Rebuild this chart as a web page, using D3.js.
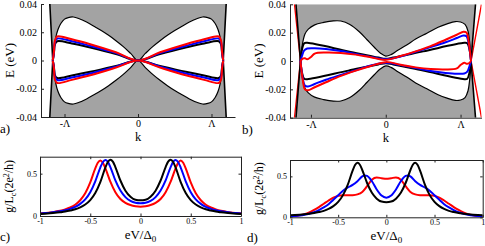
<!DOCTYPE html>
<html>
<head>
<meta charset="utf-8">
<script src="https://cdn.jsdelivr.net/npm/d3@7"></script>
<style>
  body { margin: 0; background: #fff; }
  svg { display: block; font-family: "Liberation Serif", "Times New Roman", serif; }
</style>
</head>
<body>
<svg id="fig" width="485" height="246"></svg>
<script>
// ---------- data: spectra (k in units of Lambda, E in eV) ----------
const eTicks = [-0.04, -0.02, 0, 0.02, 0.04];
const eTickLabels = ["-0.04", "-0.02", "0", "0.02", "0.04"];
const kTicks = [-1, 0, 1];
const kTickLabels = ["-\u039B", "0", "\u039B"];

// panel a: outer continuum edge (right side, mirrored) and gap edge (|k| >= 0)
const edgeA = [[1.2, 0.04], [1.16, 0], [1.2, -0.04]];
const gapA = [[0, 0], [0.1, 0.0050], [0.2, 0.0098], [0.3, 0.0140], [0.4, 0.0178],
  [0.5, 0.0212], [0.6, 0.0243], [0.7, 0.0272], [0.8, 0.0296], [0.88, 0.0308],
  [0.95, 0.0304], [1.0, 0.0293], [1.05, 0.0262], [1.09, 0.0218], [1.12, 0.0160],
  [1.14, 0.0090], [1.16, 0]];
// panel a: sub-gap bands, k >= 0 (mirrored)
const blackUpA = [[0, 0], [0.3, 0.0046], [0.65, 0.0092], [0.9, 0.0121], [1.1, 0.0136], [1.13, 0.0115], [1.145, 0.0045], [1.16, 0]];
const blueUpA = [[0, 0], [0.3, 0.0052], [0.65, 0.0103], [0.9, 0.0137], [1.1, 0.0155], [1.13, 0.0130], [1.145, 0.0050], [1.16, 0]];
const redUpA = [[0, 0], [0.3, 0.0058], [0.65, 0.0115], [0.9, 0.0150], [1.1, 0.0170], [1.13, 0.0140], [1.145, 0.0055], [1.16, 0]];
const blackDnA = [[0, 0], [0.3, -0.0038], [0.65, -0.0080], [0.9, -0.0106], [1.1, -0.0124], [1.13, -0.0105], [1.145, -0.0040], [1.16, 0]];
const blueDnA = [[0, 0], [0.3, -0.0044], [0.65, -0.0092], [0.9, -0.0120], [1.1, -0.0138], [1.13, -0.0117], [1.145, -0.0045], [1.16, 0]];
const redDnA = [[0, 0], [0.3, -0.0050], [0.65, -0.0105], [0.9, -0.0137], [1.1, -0.0159], [1.13, -0.0135], [1.145, -0.0050], [1.16, 0]];

// panel b: edges, gap edge (upper, full k) and upper bands (lower ones are E(k) -> -E(-k))
const edgeB = [[1.2, 0.04], [1.14, 0], [1.2, -0.04]];
const edgeRedBLeft = [[-1.22, 0.04], [-1.14, 0], [-1.22, -0.04]];
const edgeRedBRight = [[1.28, 0.04], [1.14, 0], [1.28, -0.04]];
const gapB = [[-1.14, 0], [-1.12, 0.010], [-1.08, 0.019], [-1.035, 0.0225], [-0.95, 0.0255],
  [-0.83, 0.0272], [-0.7, 0.0283], [-0.6, 0.0282], [-0.48, 0.0258], [-0.35, 0.0205],
  [-0.25, 0.0150], [-0.15, 0.0095], [-0.07, 0.0055], [0, 0.0035], [0.07, 0.0045],
  [0.15, 0.0072], [0.28, 0.0113], [0.4, 0.0155], [0.55, 0.0196], [0.7, 0.0238],
  [0.82, 0.0262], [0.93, 0.0278], [1.0, 0.0275], [1.06, 0.0258], [1.1, 0.0210],
  [1.12, 0.0140], [1.14, 0]];
const blackUpB = [[-1.14, 0], [-1.12, 0.008], [-1.09, 0.0125], [-1.05, 0.0128], [-0.5, 0.0068],
  [-0.1, 0.0024], [0, 0.0015], [0.1, 0.0024], [0.5, 0.0068], [1.05, 0.0128], [1.09, 0.0125],
  [1.12, 0.008], [1.14, 0]];
const blueUpB = [[-1.14, 0], [-1.12, 0.0035], [-1.09, 0.0075], [-1.05, 0.0088], [-0.95, 0.0090],
  [-0.8, 0.0084], [-0.6, 0.0070], [-0.4, 0.0050], [-0.2, 0.0029], [0, 0.0012], [0.2, 0.0032],
  [0.4, 0.0065], [0.6, 0.0098], [0.8, 0.0132], [0.95, 0.0162], [1.04, 0.0180], [1.08, 0.0175],
  [1.11, 0.0120], [1.14, 0]];
const redUpB = [[-1.14, 0], [-1.11, 0.0017], [-1.08, 0.0019], [-1.05, 0.0012], [-1.0, 0.0028],
  [-0.95, 0.0052], [-0.8, 0.0060], [-0.6, 0.0057], [-0.4, 0.0045], [-0.2, 0.0026], [0, 0.0008],
  [0.2, 0.0035], [0.4, 0.0068], [0.6, 0.0105], [0.8, 0.0150], [0.95, 0.0185], [1.04, 0.0207],
  [1.08, 0.0200], [1.11, 0.0130], [1.14, 0]];

// ---------- data: conductance (eV/Delta0 >= 0, symmetric) ----------
const vTicks = [-1, -0.5, 0, 0.5, 1];
const vTickLabels = ["-1", "-0.5", "0", "0.5", "1"];
const gTicks = [0, 0.5];
const gTickLabels = ["0", "0.5"];

const gBlack = [[0, .185], [.05, .192], [.1, .228], [.15, .299], [.2, .419], [.25, .578], [.275, .642],
  [.3, .665], [.325, .638], [.35, .57], [.4, .40], [.45, .271], [.5, .188], [.55, .136], [.6, .102],
  [.65, .079], [.7, .064], [.75, .052], [.8, .044], [.85, .037], [.9, .032], [.95, .028], [1, .0245]];
const gBlueC = [[0, .15], [.05, .156], [.1, .178], [.15, .223], [.2, .30], [.25, .42], [.3, .578],
  [.325, .638], [.35, .66], [.375, .635], [.4, .572], [.45, .41], [.5, .281], [.55, .196], [.6, .143],
  [.65, .107], [.7, .084], [.75, .067], [.8, .055], [.85, .046], [.9, .039], [.95, .034], [1, .029]];
const gRedC = [[0, .11], [.05, .115], [.1, .129], [.15, .155], [.2, .20], [.25, .28], [.3, .405],
  [.35, .566], [.375, .63], [.4, .655], [.425, .628], [.45, .562], [.5, .397], [.55, .268], [.6, .186],
  [.65, .133], [.7, .10], [.75, .078], [.8, .062], [.85, .051], [.9, .042], [.95, .036], [1, .031]];
const gBlueD = [[0, .24], [.05, .265], [.1, .34], [.15, .44], [.2, .505], [.225, .512], [.25, .50],
  [.3, .44], [.35, .395], [.4, .365], [.45, .325], [.5, .27], [.55, .215], [.6, .16], [.65, .12],
  [.7, .088], [.75, .062], [.8, .043], [.85, .03], [.9, .021], [.95, .015], [1, .011]];
const gRedD = [[0, .47], [.05, .478], [.1, .487], [.15, .46], [.2, .38], [.25, .31], [.3, .28],
  [.35, .27], [.4, .268], [.45, .27], [.5, .262], [.55, .24], [.6, .205], [.65, .165], [.7, .125],
  [.75, .09], [.8, .06], [.85, .038], [.9, .024], [.95, .015], [1, .01]];

// ---------- helpers ----------
const svg = d3.select("#fig");
const gray = "#a3a3a3";
const axisColor = "#222";
const colors = { black: "#000", blue: "#0000ff", red: "#ff0000" };

// mirror a k>=0 half onto k<0
const mirrorK = (half) => half.slice(1).reverse().map(([k, e]) => [-k, e]).concat(half);
// E(k) -> -E(-k)
const reflect = (pts) => pts.map(([k, e]) => [-k, -e]);

let clipCount = 0;
function addClip(left, top, w, h) {
  const id = "clip" + (clipCount++);
  svg.append("clipPath").attr("id", id)
    .append("rect").attr("x", left).attr("y", top).attr("width", w).attr("height", h);
  return `url(#${id})`;
}

function styleAxis(sel, size) {
  sel.attr("font-family", null).attr("font-size", size).style("color", axisColor);
  sel.selectAll("text").attr("fill", "#000");
}

// ---------- spectrum panels ----------
function spectrumPanel(p) {
  const x = d3.scaleLinear().domain(p.kDomain).range([p.left, p.right]);
  const y = d3.scaleLinear().domain([-0.04, 0.04]).range([p.bottom, p.top]);
  const g = svg.append("g");
  const plot = g.append("g").attr("clip-path", addClip(p.left, p.top, p.right - p.left, p.bottom - p.top));

  // continuum between the outer edges
  plot.append("path").datum(p.edge)
    .attr("fill", gray)
    .attr("d", d3.area().y((d) => y(d[1])).x0((d) => x(-d[0])).x1((d) => x(d[0])));

  // gap region, symmetric in E
  const gapPoly = p.gapUp.concat(p.gapUp.slice(1, -1).reverse().map(([k, e]) => [k, -e]));
  plot.append("path").datum(gapPoly)
    .attr("fill", "#fff").attr("stroke", "#000").attr("stroke-width", 1.2)
    .attr("d", d3.line().x((d) => x(d[0])).y((d) => y(d[1])).curve(d3.curveCatmullRomClosed.alpha(0.5)));

  const line = d3.line().x((d) => x(d[0])).y((d) => y(d[1])).curve(d3.curveCatmullRom.alpha(0.5));

  // outer edge lines
  (p.extraEdges || []).forEach((e) => {
    plot.append("path").datum(e.pts).attr("fill", "none")
      .attr("stroke", e.color).attr("stroke-width", 1.4).attr("d", d3.line().x((d) => x(d[0])).y((d) => y(d[1])));
  });
  [p.edge, p.edge.map(([k, e]) => [-k, e])].forEach((pts) => {
    plot.append("path").datum(pts).attr("fill", "none")
      .attr("stroke", "#000").attr("stroke-width", 1.6).attr("d", d3.line().x((d) => x(d[0])).y((d) => y(d[1])));
  });

  // bands
  p.bands.forEach((b) => {
    plot.append("path").datum(b.pts).attr("fill", "none")
      .attr("stroke", colors[b.color]).attr("stroke-width", 2).attr("d", line);
  });

  // axes (ticks pointing inward)
  g.append("g").attr("transform", `translate(${p.left},0)`)
    .call(d3.axisLeft(y).tickValues(eTicks).tickFormat((d, i) => eTickLabels[i])
      .tickSize(-3).tickSizeOuter(0).tickPadding(4))
    .call(styleAxis, 10);
  g.append("g").attr("transform", `translate(0,${p.bottom})`)
    .call(d3.axisBottom(x).tickValues(kTicks).tickFormat((d, i) => kTickLabels[i])
      .tickSize(-3).tickSizeOuter(0).tickPadding(3))
    .call(styleAxis, 10);

  g.append("text").attr("x", (p.left + p.right) / 2).attr("y", p.bottom + 24)
    .attr("text-anchor", "middle").attr("font-size", 12.5).text("k");
  g.append("text").attr("transform", `translate(${p.left - 27},${(p.top + p.bottom) / 2}) rotate(-90)`)
    .attr("text-anchor", "middle").attr("font-size", 13).text("E (eV)");
  g.append("text").attr("x", p.tagX).attr("y", p.tagY).attr("font-size", 13).text(p.tag);
}

// ---------- conductance panels ----------
function conductancePanel(p) {
  const x = d3.scaleLinear().domain([-1, 1]).range([p.left, p.right]);
  const y = d3.scaleLinear().domain([0, 0.7]).range([p.bottom, p.top]);
  const g = svg.append("g");
  const plot = g.append("g").attr("clip-path", addClip(p.left, p.top, p.right - p.left, p.bottom - p.top));
  const line = d3.line().x((d) => x(d[0])).y((d) => y(d[1])).curve(d3.curveMonotoneX);

  p.curves.forEach((c) => {
    plot.append("path").datum(mirrorK(c.pts)).attr("fill", "none")
      .attr("stroke", colors[c.color]).attr("stroke-width", 2).attr("d", line);
  });

  const mk = (axis, tx, ty, labels) => {
    const a = g.append("g").attr("transform", `translate(${tx},${ty})`).call(axis).call(styleAxis, 8);
    if (!labels) a.selectAll("text").remove();
  };
  mk(d3.axisBottom(x).tickValues(vTicks).tickFormat((d, i) => vTickLabels[i]).tickSize(-2.5).tickSizeOuter(0).tickPadding(2), 0, p.bottom, true);
  mk(d3.axisTop(x).tickValues(vTicks).tickSize(-2.5).tickSizeOuter(0), 0, p.top, false);
  mk(d3.axisLeft(y).tickValues(gTicks).tickFormat((d, i) => gTickLabels[i]).tickSize(-2.5).tickSizeOuter(0).tickPadding(3), p.left, 0, true);
  mk(d3.axisRight(y).tickValues(gTicks).tickSize(-2.5).tickSizeOuter(0), p.right, 0, false);

  const xl = g.append("text").attr("x", (p.left + p.right) / 2).attr("y", p.bottom + 23)
    .attr("text-anchor", "middle").attr("font-size", 13);
  xl.append("tspan").text("eV/\u0394");
  xl.append("tspan").attr("font-size", 9).attr("dy", 3).text("0");

  const yl = g.append("text")
    .attr("transform", `translate(${p.left - 27},${(p.top + p.bottom) / 2}) rotate(-90)`)
    .attr("text-anchor", "middle").attr("font-size", 12);
  yl.append("tspan").text("g/L");
  yl.append("tspan").attr("font-size", 8).attr("dy", 2.5).text("c");
  yl.append("tspan").attr("dy", -2.5).text("(2e");
  yl.append("tspan").attr("font-size", 8).attr("dy", -4).text("2");
  yl.append("tspan").attr("dy", 4).text("/h)");

  g.append("text").attr("x", p.tagX).attr("y", p.tagY).attr("font-size", 13).text(p.tag);
}

spectrumPanel({
  left: 41, right: 235, top: 4, bottom: 117, kDomain: [-1.32, 1.32],
  edge: edgeA, gapUp: mirrorK(gapA),
  bands: [
    { color: "black", pts: mirrorK(blackUpA) }, { color: "blue", pts: mirrorK(blueUpA) }, { color: "red", pts: mirrorK(redUpA) },
    { color: "black", pts: mirrorK(blackDnA) }, { color: "blue", pts: mirrorK(blueDnA) }, { color: "red", pts: mirrorK(redDnA) }
  ],
  tag: "a)", tagX: 0, tagY: 133
});

spectrumPanel({
  left: 290, right: 481.5, top: 4.3, bottom: 117.7, kDomain: [-1.28, 1.28],
  edge: edgeB, gapUp: gapB,
  extraEdges: [{ color: colors.red, pts: edgeRedBLeft }, { color: colors.red, pts: edgeRedBRight }],
  bands: [
    { color: "black", pts: blackUpB }, { color: "black", pts: reflect(blackUpB) },
    { color: "blue", pts: blueUpB }, { color: "blue", pts: reflect(blueUpB) },
    { color: "red", pts: redUpB }, { color: "red", pts: reflect(redUpB) }
  ],
  tag: "b)", tagX: 242, tagY: 134
});

conductancePanel({
  left: 40, right: 241, top: 156.7, bottom: 216,
  curves: [{ color: "red", pts: gRedC }, { color: "blue", pts: gBlueC }, { color: "black", pts: gBlack }],
  tag: "c)", tagX: 0, tagY: 241
});

conductancePanel({
  left: 290, right: 482.7, top: 160, bottom: 217.3,
  curves: [{ color: "red", pts: gRedD }, { color: "blue", pts: gBlueD }, { color: "black", pts: gBlack }],
  tag: "d)", tagX: 247, tagY: 242
});
</script>
</body>
</html>
